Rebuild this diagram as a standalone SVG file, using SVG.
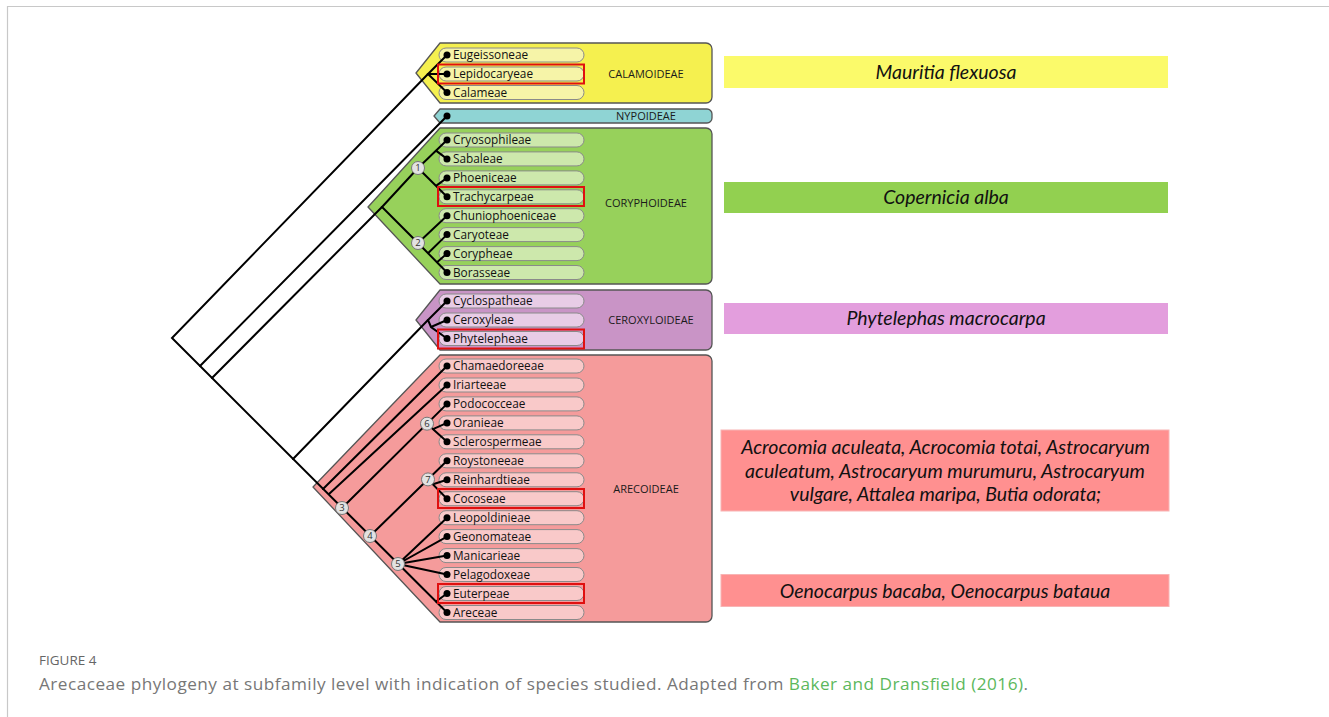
<svg xmlns="http://www.w3.org/2000/svg" width="1329" height="717" viewBox="0 0 1329 717">
<style>
.box{stroke:#555;stroke-width:1.3;stroke-linejoin:round}
.pill{stroke:#8a8a8a;stroke-width:1}
.tr{font-family:"Open Sans","Noto Sans",sans-serif;font-size:11.8px;fill:#111}
.sf{font-family:"Open Sans","Noto Sans",sans-serif;font-size:11px;fill:#1a1a1a;text-anchor:middle}
.br{stroke:#000;stroke-width:2;fill:none;stroke-linecap:round}
.dot{fill:#000}
.hl{fill:none;stroke:#e01010;stroke-width:2}
.nd{fill:#e2e2e2;stroke:#777;stroke-width:1}
.nt{font-family:"Open Sans","Noto Sans",sans-serif;font-size:9.5px;fill:#333;text-anchor:middle}
.sp{font-family:Lato,"Open Sans",sans-serif;font-style:italic;font-size:19.5px;fill:#111;text-anchor:middle}
</style>
<rect width="1329" height="717" fill="#fff"/>
<path d="M7.5,717 V6.5 H1329" fill="none" stroke="#c8c8c8" stroke-width="1.2"/>

<g id="calamoideae">
<path class="box" fill="#f5f04f" d="M440,43 H706 A6,6 0 0 1 712,49 V97 A6,6 0 0 1 706,103 H440 L416,73 Z"/>
<rect class="pill" fill="#f6f4a8" x="439" y="48" width="145" height="14" rx="7"/>
<rect class="pill" fill="#f6f4a8" x="439" y="67" width="145" height="14" rx="7"/>
<rect class="pill" fill="#f6f4a8" x="439" y="85.5" width="145" height="14" rx="7"/>
<text class="tr" x="453" y="59.2">Eugeissoneae</text>
<text class="tr" x="453" y="78.2">Lepidocaryeae</text>
<text class="tr" x="453" y="96.7">Calameae</text>
<text class="sf" x="646" y="78">CALAMOIDEAE</text>
</g>

<g id="nypoideae">
<path class="box" fill="#8fd4d4" d="M440,109 H707 A5,5 0 0 1 712,114 V118 A5,5 0 0 1 707,123 H440 L434,116 Z"/>
<text class="sf" x="646" y="120">NYPOIDEAE</text>
</g>

<g id="coryphoideae">
<path class="box" fill="#97d15b" d="M440,128 H706 A6,6 0 0 1 712,134 V278 A6,6 0 0 1 706,284 H440 L368,207 Z"/>
<rect class="pill" fill="#cde8ac" x="439" y="133" width="145" height="14" rx="7"/>
<rect class="pill" fill="#cde8ac" x="439" y="151.9" width="145" height="14" rx="7"/>
<rect class="pill" fill="#cde8ac" x="439" y="170.9" width="145" height="14" rx="7"/>
<rect class="pill" fill="#cde8ac" x="439" y="189.8" width="145" height="14" rx="7"/>
<rect class="pill" fill="#cde8ac" x="439" y="208.7" width="145" height="14" rx="7"/>
<rect class="pill" fill="#cde8ac" x="439" y="227.6" width="145" height="14" rx="7"/>
<rect class="pill" fill="#cde8ac" x="439" y="246.6" width="145" height="14" rx="7"/>
<rect class="pill" fill="#cde8ac" x="439" y="265.5" width="145" height="14" rx="7"/>
<text class="tr" x="453" y="144.2">Cryosophileae</text>
<text class="tr" x="453" y="163.1">Sabaleae</text>
<text class="tr" x="453" y="182.1">Phoeniceae</text>
<text class="tr" x="453" y="201">Trachycarpeae</text>
<text class="tr" x="453" y="219.9">Chuniophoeniceae</text>
<text class="tr" x="453" y="238.8">Caryoteae</text>
<text class="tr" x="453" y="257.8">Corypheae</text>
<text class="tr" x="453" y="276.7">Borasseae</text>
<text class="sf" x="646" y="207">CORYPHOIDEAE</text>
</g>

<g id="ceroxyloideae">
<path class="box" fill="#c994c6" d="M440,290 H706 A6,6 0 0 1 712,296 V344 A6,6 0 0 1 706,350 H440 L416,320 Z"/>
<rect class="pill" fill="#e8cce6" x="439" y="294" width="145" height="14" rx="7"/>
<rect class="pill" fill="#e8cce6" x="439" y="313" width="145" height="14" rx="7"/>
<rect class="pill" fill="#e8cce6" x="439" y="331.5" width="145" height="14" rx="7"/>
<text class="tr" x="453" y="305.2">Cyclospatheae</text>
<text class="tr" x="453" y="324.2">Ceroxyleae</text>
<text class="tr" x="453" y="342.7">Phytelepheae</text>
<text class="sf" x="651" y="324">CEROXYLOIDEAE</text>
</g>

<g id="arecoideae">
<path class="box" fill="#f59b9b" d="M440,355 H706 A6,6 0 0 1 712,361 V616 A6,6 0 0 1 706,622 H440 L313,487 Z"/>
<g fill="#f9c9c9">
<rect class="pill" x="439" y="359" width="145" height="14" rx="7"/>
<rect class="pill" x="439" y="378" width="145" height="14" rx="7"/>
<rect class="pill" x="439" y="396.9" width="145" height="14" rx="7"/>
<rect class="pill" x="439" y="415.9" width="145" height="14" rx="7"/>
<rect class="pill" x="439" y="434.8" width="145" height="14" rx="7"/>
<rect class="pill" x="439" y="453.8" width="145" height="14" rx="7"/>
<rect class="pill" x="439" y="472.8" width="145" height="14" rx="7"/>
<rect class="pill" x="439" y="491.7" width="145" height="14" rx="7"/>
<rect class="pill" x="439" y="510.7" width="145" height="14" rx="7"/>
<rect class="pill" x="439" y="529.6" width="145" height="14" rx="7"/>
<rect class="pill" x="439" y="548.6" width="145" height="14" rx="7"/>
<rect class="pill" x="439" y="567.5" width="145" height="14" rx="7"/>
<rect class="pill" x="439" y="586.5" width="145" height="14" rx="7"/>
<rect class="pill" x="439" y="605.5" width="145" height="14" rx="7"/>
</g>
<text class="tr" x="453" y="370.2">Chamaedoreeae</text>
<text class="tr" x="453" y="389.2">Iriarteeae</text>
<text class="tr" x="453" y="408.1">Podococceae</text>
<text class="tr" x="453" y="427.1">Oranieae</text>
<text class="tr" x="453" y="446">Sclerospermeae</text>
<text class="tr" x="453" y="465">Roystoneeae</text>
<text class="tr" x="453" y="484">Reinhardtieae</text>
<text class="tr" x="453" y="502.9">Cocoseae</text>
<text class="tr" x="453" y="521.9">Leopoldinieae</text>
<text class="tr" x="453" y="540.8">Geonomateae</text>
<text class="tr" x="453" y="559.8">Manicarieae</text>
<text class="tr" x="453" y="578.7">Pelagodoxeae</text>
<text class="tr" x="453" y="597.7">Euterpeae</text>
<text class="tr" x="453" y="616.7">Areceae</text>
<text class="sf" x="646" y="493">ARECOIDEAE</text>
</g>

<g id="connectors">
<path class="br" d="M428,74 L172,338 L447,612.5"/>
<path class="br" d="M200,366 L447,116"/>
<path class="br" d="M212,378 L382,207"/>
<path class="br" d="M293,459 L428,320"/>
<path class="br" d="M447,55 L428,74 L447,92.5 M428,74 H447"/>
<path class="br" d="M418,168 L382,207 L418,243"/>
<path class="br" d="M447,140 L418,168 L447,196.8 M436,150.6 L447,158.9 M436,185.9 L447,177.9"/>
<path class="br" d="M447,215.7 L418,243 L447,272.5 M428,253.2 L447,234.6 M437,262.3 L447,253.6"/>
<path class="br" d="M447,301 L428,320 L431,327 L447,338.5 M431,327 L447,320"/>
<path class="br" d="M323,489 L447,366 M329,494 L447,385"/>
<path class="br" d="M342,508 L447,403.9 M427,423.7 L447,441.8 M433,429.1 L447,422.9"/>
<path class="br" d="M370,536 L447,460.8 M428,479.4 L447,498.7 M433,484.2 L447,479.8"/>
<path class="br" d="M447,517.7 L398,564 L447,536.6 M398,564 L447,555.6 M398,564 L447,574.5 M436,601.5 L447,593.5"/>
</g>

<g id="tips">
<circle class="dot" cx="447" cy="55" r="3.5"/>
<circle class="dot" cx="447" cy="74" r="3.5"/>
<circle class="dot" cx="447" cy="92.5" r="3.5"/>
<circle class="dot" cx="447" cy="116" r="3.5"/>
<circle class="dot" cx="447" cy="140" r="3.5"/>
<circle class="dot" cx="447" cy="158.9" r="3.5"/>
<circle class="dot" cx="447" cy="177.9" r="3.5"/>
<circle class="dot" cx="447" cy="196.8" r="3.5"/>
<circle class="dot" cx="447" cy="215.7" r="3.5"/>
<circle class="dot" cx="447" cy="234.6" r="3.5"/>
<circle class="dot" cx="447" cy="253.6" r="3.5"/>
<circle class="dot" cx="447" cy="272.5" r="3.5"/>
<circle class="dot" cx="447" cy="301" r="3.5"/>
<circle class="dot" cx="447" cy="320" r="3.5"/>
<circle class="dot" cx="447" cy="338.5" r="3.5"/>
<circle class="dot" cx="447" cy="366" r="3.5"/>
<circle class="dot" cx="447" cy="385" r="3.5"/>
<circle class="dot" cx="447" cy="403.9" r="3.5"/>
<circle class="dot" cx="447" cy="422.9" r="3.5"/>
<circle class="dot" cx="447" cy="441.8" r="3.5"/>
<circle class="dot" cx="447" cy="460.8" r="3.5"/>
<circle class="dot" cx="447" cy="479.8" r="3.5"/>
<circle class="dot" cx="447" cy="498.7" r="3.5"/>
<circle class="dot" cx="447" cy="517.7" r="3.5"/>
<circle class="dot" cx="447" cy="536.6" r="3.5"/>
<circle class="dot" cx="447" cy="555.6" r="3.5"/>
<circle class="dot" cx="447" cy="574.5" r="3.5"/>
<circle class="dot" cx="447" cy="593.5" r="3.5"/>
<circle class="dot" cx="447" cy="612.5" r="3.5"/>
</g>

<g id="nodes">
<circle class="nd" cx="418" cy="168" r="6.5"/><text class="nt" x="418" y="171.4">1</text>
<circle class="nd" cx="418" cy="243" r="6.5"/><text class="nt" x="418" y="246.4">2</text>
<circle class="nd" cx="342" cy="508" r="6.5"/><text class="nt" x="342" y="511.4">3</text>
<circle class="nd" cx="370" cy="536" r="6.5"/><text class="nt" x="370" y="539.4">4</text>
<circle class="nd" cx="398" cy="564" r="6.5"/><text class="nt" x="398" y="567.4">5</text>
<circle class="nd" cx="427" cy="423.7" r="6.5"/><text class="nt" x="427" y="427.1">6</text>
<circle class="nd" cx="428" cy="479.4" r="6.5"/><text class="nt" x="428" y="482.8">7</text>
</g>

<g id="highlights">
<rect class="hl" x="438" y="64.5" width="146" height="19"/>
<rect class="hl" x="438" y="187" width="146" height="19"/>
<rect class="hl" x="438" y="329.5" width="146" height="19"/>
<rect class="hl" x="438" y="489" width="146" height="19"/>
<rect class="hl" x="438" y="584" width="146" height="19"/>
</g>

<g id="species-mauritia">
<rect x="724" y="56" width="444" height="32" fill="#fbfa6a"/>
<text class="sp" x="946" y="78.5">Mauritia flexuosa</text>
</g>
<g id="species-copernicia">
<rect x="724" y="182" width="444" height="31" fill="#92d050"/>
<text class="sp" x="946" y="203.5">Copernicia alba</text>
</g>
<g id="species-phytelephas">
<rect x="724" y="303" width="444" height="31" fill="#e39edd"/>
<text class="sp" x="946" y="324.5">Phytelephas macrocarpa</text>
</g>
<g id="species-cocoseae">
<rect x="721" y="430" width="448" height="81" fill="#ff9090" stroke="#f8b4b4" stroke-width="1"/>
<text class="sp" x="945.5" y="453.5">Acrocomia aculeata, Acrocomia totai, Astrocaryum</text>
<text class="sp" x="945" y="477.5">aculeatum, Astrocaryum murumuru, Astrocaryum</text>
<text class="sp" x="945.5" y="500.5">vulgare, Attalea maripa, Butia odorata;</text>
</g>
<g id="species-euterpeae">
<rect x="721" y="574.5" width="448" height="32" fill="#ff9090" stroke="#f8b4b4" stroke-width="1"/>
<text class="sp" x="945" y="597.5">Oenocarpus bacaba, Oenocarpus bataua</text>
</g>

<g id="caption">
<text x="39" y="665" font-family="'Open Sans','Noto Sans',sans-serif" font-size="13.5px" font-weight="500" fill="#666">FIGURE 4</text>
<text x="39" y="690" font-family="'Open Sans','Noto Sans',sans-serif" font-size="17.2px" fill="#777" textLength="989" lengthAdjust="spacing">Arecaceae phylogeny at subfamily level with indication of species studied. Adapted from <tspan fill="#5cb85c">Baker and Dransfield (2016)</tspan>.</text>
</g>
</svg>
